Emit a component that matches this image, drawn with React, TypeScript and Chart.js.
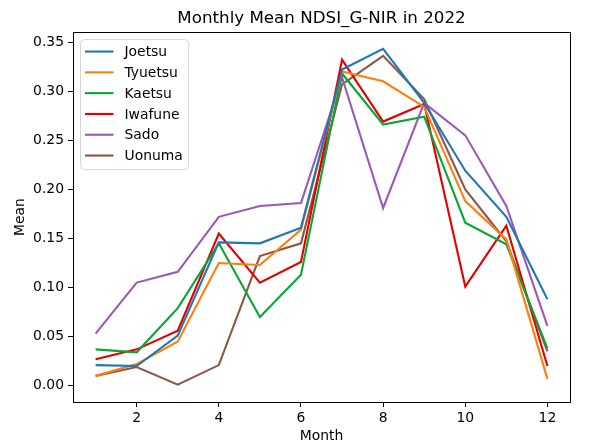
import React, { useEffect, useRef } from "react";
import { Chart, registerables } from "chart.js";

Chart.register(...registerables);

const months = [1, 2, 3, 4, 5, 6, 7, 8, 9, 10, 11, 12];
const seriesNames = ["Joetsu", "Tyuetsu", "Kaetsu", "Iwafune", "Sado", "Uonuma"];
const seriesColors = ["#1f77b4", "#ff7f0e", "#0aa537", "#e30000", "#9b59b6", "#8c564b"];
const joetsu = [0.021, 0.020, 0.051, 0.146, 0.145, 0.161, 0.322, 0.343, 0.288, 0.219, 0.172, 0.088];
const tyuetsu = [0.010, 0.022, 0.045, 0.125, 0.123, 0.159, 0.320, 0.310, 0.284, 0.188, 0.149, 0.007];
const kaetsu = [0.037, 0.034, 0.079, 0.145, 0.070, 0.113, 0.318, 0.266, 0.274, 0.166, 0.144, 0.038];
const iwafune = [0.027, 0.037, 0.056, 0.155, 0.105, 0.126, 0.332, 0.269, 0.287, 0.101, 0.163, 0.020];
const sado = [0.053, 0.105, 0.116, 0.172, 0.183, 0.186, 0.314, 0.181, 0.288, 0.255, 0.183, 0.061];
const uonuma = [0.010, 0.019, 0.001, 0.021, 0.132, 0.145, 0.307, 0.336, 0.292, 0.200, 0.147, 0.035];
const xTicks = [2, 4, 6, 8, 10, 12];
const yTicks = [0, 0.05, 0.1, 0.15, 0.2, 0.25, 0.3, 0.35];

const FONT = "'DejaVu Sans', sans-serif";

const frameAndLegend = {
  id: "frameAndLegend",
  afterDatasetsDraw(chart: any) {
    const { ctx, chartArea } = chart;
    ctx.save();
    ctx.strokeStyle = "#000";
    ctx.lineWidth = 1;
    ctx.strokeRect(
      Math.round(chartArea.left) + 0.5,
      Math.round(chartArea.top) + 0.5,
      Math.round(chartArea.right - chartArea.left),
      Math.round(chartArea.bottom - chartArea.top)
    );
    // legend
    const bx = chartArea.left + 7.5;
    const by = chartArea.top + 7.5;
    const bw = 108;
    const bh = 130;
    const r = 4;
    ctx.beginPath();
    ctx.moveTo(bx + r, by);
    ctx.lineTo(bx + bw - r, by);
    ctx.arcTo(bx + bw, by, bx + bw, by + r, r);
    ctx.lineTo(bx + bw, by + bh - r);
    ctx.arcTo(bx + bw, by + bh, bx + bw - r, by + bh, r);
    ctx.lineTo(bx + r, by + bh);
    ctx.arcTo(bx, by + bh, bx, by + bh - r, r);
    ctx.lineTo(bx, by + r);
    ctx.arcTo(bx, by, bx + r, by, r);
    ctx.closePath();
    ctx.fillStyle = "rgba(255,255,255,0.8)";
    ctx.fill();
    ctx.strokeStyle = "#d6d6d6";
    ctx.stroke();
    ctx.font = "13.9px " + FONT;
    ctx.textBaseline = "middle";
    ctx.textAlign = "left";
    chart.data.datasets.forEach((ds: any, i: number) => {
      const y = by + 12 + i * 20.8;
      ctx.strokeStyle = ds.borderColor;
      ctx.lineWidth = 2.1;
      ctx.beginPath();
      ctx.moveTo(bx + 4.5, y);
      ctx.lineTo(bx + 33, y);
      ctx.stroke();
      ctx.fillStyle = "#000";
      ctx.fillText(ds.label, bx + 44, y + 1);
    });
    ctx.restore();
  },
};

export default function App() {
  const ref = useRef<HTMLCanvasElement>(null);
  useEffect(() => {
    document.body.style.margin = "0";
    const values = [joetsu, tyuetsu, kaetsu, iwafune, sado, uonuma];
    const chart = new Chart(ref.current as HTMLCanvasElement, {
      type: "line",
      data: {
        datasets: seriesNames.map((name, i) => ({
          label: name,
          data: months.map((m, j) => ({ x: m, y: values[i][j] })),
          borderColor: seriesColors[i],
          backgroundColor: seriesColors[i],
          borderWidth: 2.1,
          pointRadius: 0,
          tension: 0,
          fill: false,
        })),
      },
      options: {
        animation: false,
        responsive: false,
        devicePixelRatio: 1,
        layout: { padding: { left: 0, right: 40, top: 0, bottom: 0 } },
        plugins: {
          legend: { display: false },
          tooltip: { enabled: false },
          title: {
            display: true,
            fullSize: false,
            text: "Monthly Mean NDSI_G-NIR in 2022",
            color: "#000",
            font: { family: FONT, size: 16.7, weight: "normal", lineHeight: 1.2 },
            padding: { top: 9, bottom: 3 },
          },
        },
        scales: {
          x: {
            type: "linear",
            min: 0.45,
            max: 12.55,
            afterBuildTicks: (s: any) => {
              s.ticks = xTicks.map((v) => ({ value: v }));
            },
            afterFit: (s: any) => {
              s.height = 46;
            },
            grid: { drawOnChartArea: false, drawTicks: true, tickLength: 5, color: "#000", tickWidth: 1 },
            border: { display: false },
            ticks: { color: "#000", font: { family: FONT, size: 13.9 }, padding: 3, maxRotation: 0 },
            title: {
              display: true,
              text: "Month",
              color: "#000",
              font: { family: FONT, size: 13.9 },
              padding: { top: 0, bottom: 3 },
            },
          },
          y: {
            type: "linear",
            min: -0.0166,
            max: 0.3602,
            afterBuildTicks: (s: any) => {
              s.ticks = yTicks.map((v) => ({ value: v }));
            },
            afterFit: (s: any) => {
              s.width = 73;
            },
            grid: { drawOnChartArea: false, drawTicks: true, tickLength: 5, color: "#000", tickWidth: 1 },
            border: { display: false },
            ticks: {
              color: "#000",
              font: { family: FONT, size: 13.9 },
              padding: 4,
              callback: (v: any) => Number(v).toFixed(2),
            },
            title: {
              display: true,
              text: "Mean",
              color: "#000",
              font: { family: FONT, size: 13.9 },
              padding: { top: 12, bottom: 0 },
            },
          },
        },
      },
      plugins: [frameAndLegend],
    });
    return () => chart.destroy();
  }, []);
  return (
    <div style={{ width: 610, height: 448 }}>
      <canvas ref={ref} width={610} height={448} style={{ display: "block", width: 610, height: 448 }} />
    </div>
  );
}
